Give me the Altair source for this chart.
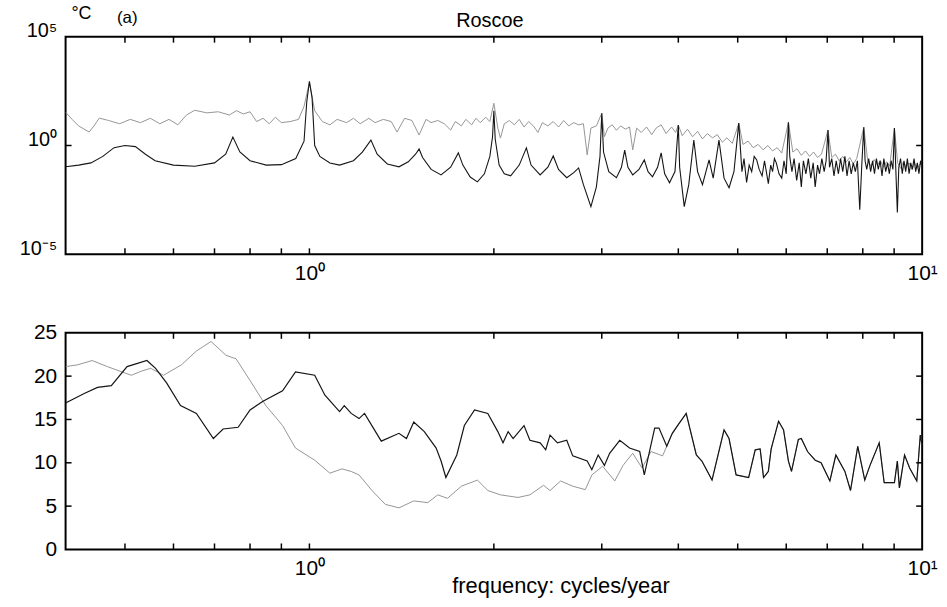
import altair as alt
import numpy as np
import pandas as pd

FONT = "Liberation Sans"
W = 862
H_TOP = 219
H_BOT = 218
TICK = 6

# ---------------- data ----------------
# top panel: (frequency cycles/yr, log10 amplitude)
top_dark = [
    (0.40, -0.98), (0.42, -0.90), (0.44, -0.80), (0.46, -0.50), (0.48, -0.10), (0.50, 0.0),
    (0.52, -0.05), (0.54, -0.40), (0.56, -0.70), (0.60, -0.90), (0.65, -0.95), (0.70, -0.80),
    (0.73, -0.40), (0.75, 0.39), (0.77, -0.30), (0.80, -0.70), (0.85, -0.90), (0.90, -0.88),
    (0.95, -0.60), (0.98, 0.20), (0.99, 2.0), (1.00, 2.95), (1.01, 2.2), (1.02, 0.0),
    (1.04, -0.50), (1.08, -0.80), (1.12, -0.90), (1.18, -0.70), (1.22, -0.30), (1.26, 0.25),
    (1.29, -0.40), (1.34, -0.85), (1.40, -0.98), (1.45, -0.75), (1.49, -0.40), (1.51, -0.16),
    (1.53, -0.55), (1.58, -1.10), (1.64, -1.35), (1.70, -1.00), (1.75, -0.34), (1.78, -0.90),
    (1.83, -1.45), (1.88, -1.67), (1.93, -1.30), (1.97, -0.50), (1.99, 0.40), (2.00, 1.6),
    (2.01, 0.30), (2.04, -0.90), (2.08, -1.30), (2.13, -1.39), (2.20, -0.90), (2.26, -0.11),
    (2.30, -0.90), (2.38, -1.35), (2.45, -1.00), (2.50, -0.48), (2.55, -1.10), (2.63, -1.48),
    (2.70, -1.25), (2.75, -1.03), (2.80, -1.80), (2.88, -2.81), (2.94, -1.90), (2.98, -0.50),
    (3.00, 1.48), (3.02, -0.30), (3.08, -1.20), (3.17, -1.48), (3.23, -1.00), (3.27, -0.21),
    (3.31, -1.00), (3.37, -1.35), (3.45, -1.10), (3.52, -0.66), (3.57, -1.20), (3.63, -1.44),
    (3.70, -1.00), (3.75, -0.34), (3.80, -1.30), (3.87, -1.71), (3.95, -1.20), (4.00, 0.94),
    (4.02, -1.00), (4.09, -2.81), (4.16, -1.80), (4.24, 0.25), (4.30, -1.20), (4.38, -1.80),
    (4.49, -0.66), (4.56, -1.50), (4.66, 0.25), (4.75, -1.50), (4.84, -1.94), (4.93, -1.20),
    (5.02, 1.03), (5.08, -1.2), (5.12, -0.6), (5.17, -1.7), (5.22, -0.9), (5.27, -1.2),
    (5.32, -0.5), (5.37, -0.66), (5.42, -1.1), (5.48, -1.4), (5.53, -0.7), (5.61, -1.75),
    (5.66, -0.9), (5.70, -1.2), (5.74, -0.6), (5.78, -0.8), (5.84, -1.3), (5.90, -1.5),
    (5.95, -0.7), (6.00, -1.3), (6.05, 1.07), (6.08, -0.5), (6.13, -1.2), (6.18, -0.6),
    (6.24, -1.6), (6.30, -0.8), (6.35, -1.9), (6.40, -0.7), (6.46, -1.3), (6.52, -0.6),
    (6.58, -1.5), (6.64, -0.8), (6.69, -1.9), (6.75, -0.9), (6.80, -1.3), (6.86, -0.6),
    (6.92, -1.2), (6.97, -0.7), (7.02, 0.71), (7.06, -1.0), (7.12, -0.6), (7.18, -1.4),
    (7.24, -0.7), (7.30, -1.3), (7.36, -0.6), (7.42, -1.2), (7.48, -0.5), (7.54, -1.4),
    (7.60, -0.7), (7.66, -1.3), (7.72, -0.8), (7.78, -1.2), (7.84, -0.7), (7.91, -2.95),
    (7.97, -0.9), (8.03, 0.84), (8.07, -0.7), (8.12, -1.1), (8.18, -0.6), (8.24, -1.2),
    (8.30, -0.7), (8.36, -1.3), (8.42, -0.6), (8.48, -1.1), (8.54, -0.7), (8.60, -1.4),
    (8.66, -0.6), (8.72, -1.2), (8.78, -0.8), (8.84, -1.3), (8.90, -0.7), (8.96, -1.1),
    (9.01, 0.80), (9.06, -1.2), (9.11, -3.08), (9.16, -1.0), (9.22, -0.6), (9.28, -1.3),
    (9.34, -0.7), (9.40, -1.2), (9.46, -0.6), (9.52, -1.3), (9.58, -0.8), (9.64, -1.1),
    (9.70, -0.6), (9.76, -1.2), (9.82, -0.8), (9.88, -1.3), (9.94, -0.7), (10.0, -1.0),
]

top_gray = [
    (0.40, 1.53), (0.41, 1.20), (0.42, 0.90), (0.437, 0.62), (0.445, 0.90), (0.454, 1.26),
    (0.47, 1.15), (0.49, 1.00), (0.51, 1.20), (0.53, 1.05), (0.55, 1.25), (0.57, 1.00),
    (0.59, 1.20), (0.61, 0.95), (0.63, 1.40), (0.65, 1.62), (0.68, 1.50), (0.71, 1.55),
    (0.74, 1.40), (0.76, 1.60), (0.78, 1.45), (0.80, 1.55), (0.82, 1.10), (0.84, 1.25),
    (0.86, 1.00), (0.88, 1.30), (0.90, 1.05), (0.93, 1.10), (0.96, 1.20), (0.98, 1.80),
    (1.00, 2.90), (1.02, 1.60), (1.05, 1.10), (1.08, 0.95), (1.11, 1.20), (1.15, 1.05),
    (1.18, 1.25), (1.21, 1.00), (1.25, 1.25), (1.28, 1.05), (1.32, 1.20), (1.36, 1.10),
    (1.39, 0.62), (1.43, 1.25), (1.47, 1.15), (1.51, 0.48), (1.55, 1.20), (1.58, 1.05),
    (1.62, 1.15), (1.66, 1.00), (1.70, 0.71), (1.73, 1.10), (1.77, 0.90), (1.80, 1.20),
    (1.84, 0.95), (1.87, 1.25), (1.90, 1.05), (1.94, 1.30), (1.97, 1.10), (2.00, 1.94),
    (2.03, 0.80), (2.05, 0.34), (2.08, 1.00), (2.12, 1.15), (2.16, 0.95), (2.20, 1.20),
    (2.24, 0.85), (2.28, 1.10), (2.32, 0.90), (2.36, 0.60), (2.40, 1.05), (2.45, 0.90),
    (2.50, 1.10), (2.55, 0.85), (2.60, 1.15), (2.65, 0.90), (2.70, 1.05), (2.75, 0.95),
    (2.80, 1.00), (2.84, -0.43), (2.88, 0.80), (2.94, 0.90), (3.00, 1.48), (3.03, 0.40),
    (3.07, 0.80), (3.12, 0.95), (3.17, 0.70), (3.22, 0.90), (3.28, 0.75), (3.33, 0.85),
    (3.37, -0.20), (3.42, 0.80), (3.48, 0.60), (3.55, 0.85), (3.62, 0.50), (3.68, 0.80),
    (3.75, 0.95), (3.82, 0.55), (3.90, 0.85), (3.96, 0.60), (4.00, 0.94), (4.06, 0.45),
    (4.14, 0.75), (4.22, 0.40), (4.30, 0.65), (4.38, 0.30), (4.46, 0.55), (4.55, 0.35),
    (4.63, 0.50), (4.72, 0.15), (4.80, 0.35), (4.90, 0.10), (5.02, 1.03), (5.10, 0.05),
    (5.20, 0.20), (5.30, -0.10), (5.40, 0.05), (5.50, -0.20), (5.60, 0.00), (5.70, -0.25),
    (5.80, -0.10), (5.90, -0.35), (6.05, 1.07), (6.15, -0.30), (6.25, -0.15), (6.35, -0.45),
    (6.45, -0.25), (6.55, -0.50), (6.65, -0.30), (6.75, -0.55), (6.85, -0.40), (7.02, 0.71),
    (7.12, -0.55), (7.22, -0.40), (7.32, -0.70), (7.42, -0.50), (7.52, -0.75), (7.62, -0.55),
    (7.72, -0.85), (7.82, -0.60), (8.03, 0.84), (8.15, -0.70), (8.25, -0.95), (8.35, -0.65),
    (8.45, -0.90), (8.55, -0.70), (8.65, -1.00), (8.75, -0.75), (8.85, -0.95), (9.01, 0.80),
    (9.12, -0.80), (9.22, -1.05), (9.32, -0.75), (9.42, -1.00), (9.52, -0.80), (9.62, -1.10),
    (9.72, -0.80), (9.82, -1.05), (9.92, -0.85), (10.0, -0.95),
]

# bottom panel: (frequency cycles/yr, value)
bot_dark = [
    (0.40, 16.9), (0.429, 18.0), (0.451, 18.7), (0.475, 18.9), (0.504, 21.1), (0.543, 21.8),
    (0.561, 20.9), (0.585, 19.2), (0.616, 16.6), (0.654, 15.7), (0.697, 12.8), (0.723, 13.9),
    (0.765, 14.1), (0.80, 16.1), (0.84, 17.1), (0.904, 18.3), (0.949, 20.5), (1.02, 20.1),
    (1.06, 17.8), (1.12, 15.9), (1.14, 16.6), (1.17, 15.7), (1.205, 15.1), (1.23, 15.7),
    (1.31, 12.5), (1.40, 13.4), (1.44, 12.8), (1.48, 14.7), (1.54, 13.6), (1.61, 11.7),
    (1.64, 10.2), (1.67, 8.3), (1.74, 10.9), (1.79, 14.3), (1.86, 16.1), (1.955, 15.7),
    (2.03, 13.6), (2.07, 12.3), (2.11, 13.6), (2.15, 12.8), (2.24, 14.3), (2.29, 12.6),
    (2.38, 12.3), (2.43, 11.5), (2.47, 13.2), (2.54, 12.3), (2.63, 12.6), (2.69, 10.8),
    (2.84, 10.2), (2.89, 9.2), (2.96, 10.9), (3.03, 9.7), (3.09, 11.1), (3.21, 12.6),
    (3.33, 11.7), (3.46, 11.3), (3.52, 8.6), (3.66, 14.0), (3.72, 14.0), (3.83, 11.9),
    (3.91, 13.4), (3.98, 14.2), (4.12, 15.7), (4.28, 10.9), (4.37, 10.2), (4.54, 8.0),
    (4.75, 13.8), (4.84, 12.8), (4.97, 8.6), (5.21, 8.3), (5.34, 11.5), (5.44, 11.6),
    (5.51, 8.3), (5.61, 9.0), (5.67, 11.6), (5.83, 14.8), (5.94, 13.8), (6.05, 10.2),
    (6.12, 9.0), (6.28, 12.7), (6.35, 12.8), (6.50, 11.3), (6.69, 10.3), (6.84, 10.0),
    (7.07, 7.9), (7.23, 10.9), (7.48, 9.0), (7.64, 6.8), (7.85, 11.9), (8.06, 8.0),
    (8.22, 9.7), (8.51, 12.3), (8.67, 7.7), (9.01, 7.7), (9.11, 10.2), (9.18, 7.1),
    (9.36, 10.9), (9.54, 9.4), (9.80, 7.9), (9.93, 13.2), (10.0, 12.0),
]

bot_gray_head = [
    (0.40, 21.1), (0.418, 21.3), (0.442, 21.8), (0.468, 21.1), (0.512, 20.1), (0.533, 20.6),
    (0.551, 20.9), (0.578, 20.1), (0.618, 21.3), (0.654, 22.9), (0.691, 24.0), (0.731, 22.4),
    (0.759, 22.0), (0.80, 19.5), (0.849, 16.6), (0.904, 14.3), (0.949, 11.7), (1.02, 10.3),
    (1.08, 8.8), (1.13, 9.3), (1.17, 9.0), (1.205, 8.6), (1.265, 6.8), (1.33, 5.2),
    (1.40, 4.8), (1.48, 5.6), (1.56, 5.4), (1.62, 6.3), (1.68, 5.9), (1.77, 7.3),
    (1.88, 8.0), (1.955, 6.8), (2.05, 6.3), (2.19, 6.0), (2.29, 6.3), (2.41, 7.4),
    (2.47, 6.8), (2.57, 7.9), (2.69, 7.3), (2.82, 6.9), (2.89, 8.6), (3.01, 9.6),
    (3.15, 7.9), (3.25, 9.7), (3.37, 11.1), (3.49, 9.4), (3.61, 11.3), (3.77, 10.8),
    (3.90, 13.2), (4.01, 14.5),
]
# above ~4.1 cycles/yr the two bottom curves coincide in the picture
bot_gray = bot_gray_head + [p for p in bot_dark if p[0] >= 4.12]

x_ticks = [0.5, 0.6, 0.7, 0.8, 0.9, 1, 2, 3, 4, 5, 6, 7, 8, 9]
x_label_values = [1, 10]
top_y_label_values = [1e-5, 1, 1e5]
top_y_ticks = [1]
bot_y_label_values = [0, 5, 10, 15, 20, 25]
bot_y_ticks = [5, 10, 15, 20]

# ---------------- frames ----------------
def pairs_df(pairs, log=False):
    f = [p[0] for p in pairs]
    v = [p[1] for p in pairs]
    if log:
        v = list(10.0 ** np.array(v))
    return pd.DataFrame({"f": f, "v": v, "o": range(len(f))})

top_dark_df = pairs_df(top_dark, log=True)
top_gray_df = pairs_df(top_gray, log=True)
bot_dark_df = pairs_df(bot_dark)
bot_gray_df = pairs_df(bot_gray)

xs = alt.Scale(type="log", domain=[0.4, 10], nice=False)
ys_top = alt.Scale(type="log", domain=[1e-5, 1e5], nice=False)
ys_bot = alt.Scale(type="linear", domain=[0, 25], nice=False)

x_axis_top = alt.Axis(values=x_label_values, labelExpr="datum.value < 5 ? '10⁰' : '10¹'",
                      ticks=False, domain=False, grid=False, labelFlush=False, labelOverlap=False,
                      labelFont=FONT, labelFontSize=21, labelColor="black", labelPadding=8,
                      labelBaseline="top", title="")
x_axis_bot = alt.Axis(values=x_label_values, labelExpr="datum.value < 5 ? '10⁰' : '10¹'",
                      ticks=False, domain=False, grid=False, labelFlush=False, labelOverlap=False,
                      labelFont=FONT, labelFontSize=21, labelColor="black", labelPadding=8,
                      labelBaseline="top", title="frequency: cycles/year", titleFont=FONT,
                      titleFontSize=22, titleFontWeight="normal", titleColor="black",
                      titleX=498, titleY=36, titleAlign="center", titleBaseline="middle")
y_axis_top = alt.Axis(values=top_y_label_values,
                      labelExpr="datum.value < 0.001 ? '10⁻⁵' : (datum.value > 1000 ? '10⁵' : '10⁰')",
                      ticks=False, domain=False, grid=False, labelFont=FONT, labelFontSize=20,
                      labelColor="black", labelPadding=9, labelBaseline="alphabetic",
                      labelFlush=False, labelOverlap=False, title="")
y_axis_bot = alt.Axis(values=bot_y_label_values, ticks=False, domain=False, grid=False,
                      labelFont=FONT, labelFontSize=21, labelColor="black", labelPadding=9,
                      labelFlush=False, labelOverlap=False, title="")


def line(df, color, width, xaxis, yscale, yaxis):
    return alt.Chart(df).mark_line(color=color, strokeWidth=width, clip=True).encode(
        x=alt.X("f:Q", scale=xs, axis=xaxis),
        y=alt.Y("v:Q", scale=yscale, axis=yaxis),
        order="o:Q",
    )


def tick_layers(height, xaxis, yscale, yaxis, yticks):
    xt = pd.DataFrame({"f": x_ticks})
    yt = pd.DataFrame({"v": yticks})
    common = dict(color="black", strokeWidth=1.5)
    return [
        alt.Chart(xt).mark_rule(**common).encode(
            x=alt.X("f:Q", scale=xs, axis=xaxis), y=alt.value(height), y2=alt.value(height - TICK)),
        alt.Chart(xt).mark_rule(**common).encode(
            x=alt.X("f:Q", scale=xs, axis=xaxis), y=alt.value(0), y2=alt.value(TICK)),
        alt.Chart(yt).mark_rule(**common).encode(
            y=alt.Y("v:Q", scale=yscale, axis=yaxis), x=alt.value(0), x2=alt.value(TICK)),
        alt.Chart(yt).mark_rule(**common).encode(
            y=alt.Y("v:Q", scale=yscale, axis=yaxis), x=alt.value(W - TICK), x2=alt.value(W)),
    ]


def note(txt, x, y, size):
    return alt.Chart(pd.DataFrame({"txt": [txt]})).mark_text(
        font=FONT, color="black", align="center", baseline="middle", fontSize=size
    ).encode(text="txt:N", x=alt.value(x), y=alt.value(y))


top = alt.layer(
    line(top_gray_df, "#959595", 1.0, x_axis_top, ys_top, y_axis_top),
    line(top_dark_df, "#151515", 1.1, x_axis_top, ys_top, y_axis_top),
    *tick_layers(H_TOP, x_axis_top, ys_top, y_axis_top, top_y_ticks),
    note("°C", 16, -23, 18),
    note("(a)", 62, -19, 17),
    note("Roscoe", 427, -16, 20),
).properties(width=W, height=H_TOP)

bot = alt.layer(
    line(bot_gray_df, "#959595", 1.0, x_axis_bot, ys_bot, y_axis_bot),
    line(bot_dark_df, "#151515", 1.2, x_axis_bot, ys_bot, y_axis_bot),
    *tick_layers(H_BOT, x_axis_bot, ys_bot, y_axis_bot, bot_y_ticks),
).properties(width=W, height=H_BOT)

chart = alt.vconcat(top, bot, spacing=79, bounds="flush").properties(
    padding={"left": 18, "top": 2, "right": 8, "bottom": 8},
    background="white",
).configure_view(stroke="black", strokeWidth=2)

chart.save("out.html", embed_options={"renderer": "svg", "actions": False})
